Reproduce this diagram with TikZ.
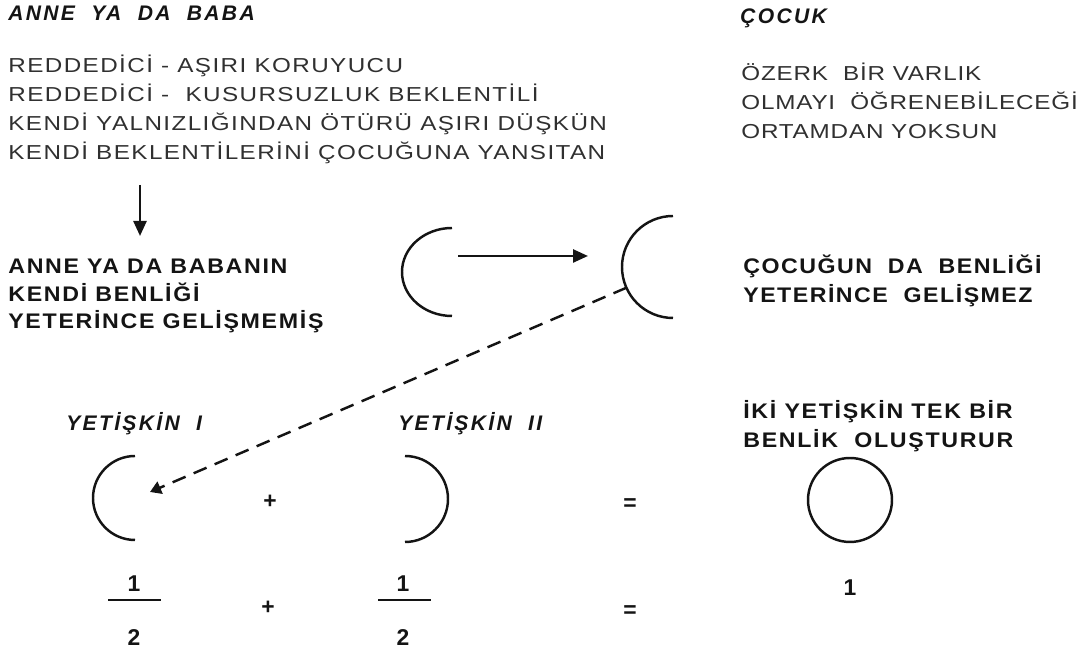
\documentclass[tikz,border=0pt]{standalone}
\usepackage{fontspec}
\setmainfont{Liberation Sans}
\usetikzlibrary{arrows.meta,positioning,calc}
\definecolor{ink}{HTML}{141414}
\definecolor{greytext}{HTML}{303030}

\begin{document}
\begin{tikzpicture}[x=0.02cm,y=0.02cm,>={Triangle[length=3mm,width=2.6mm]},
 hd/.style={anchor=west,inner sep=0pt,text=ink,font=\fontsize{12}{14}\selectfont\bfseries\itshape\addfontfeatures{LetterSpace=11}},
 lst/.style={anchor=north west,inner sep=0pt,align=left,text=greytext,font=\fontsize{11.5}{16.5}\selectfont\addfontfeatures{FakeStretch=1.2,LetterSpace=7}},
 lbl/.style={anchor=north west,inner sep=0pt,align=left,text=ink,font=\fontsize{12}{15.6}\selectfont\bfseries\addfontfeatures{FakeStretch=1.1,LetterSpace=8}},
 sym/.style={inner sep=0pt,text=ink,font=\fontsize{13}{13}\selectfont\bfseries},
 arcl/.style={draw=ink,line width=1.4pt},
 arr/.style={->,draw=ink,line width=1.4pt}]
\useasboundingbox (0,0) rectangle (1086,658);
% top: parent and child
\node[hd] (parent) at (8,645) {ANNE\ \ YA\ \ DA\ \ BABA};
\node[lst] (types) at (8,603) {REDDED\.{I}C\.{I} - A\c{S}IRI KORUYUCU\\
 REDDED\.{I}C\.{I} -\ \ KUSURSUZLUK BEKLENT\.{I}L\.{I}\\
 KEND\.{I} YALNIZLI\u{G}INDAN \"{O}T\"{U}R\"{U} A\c{S}IRI D\"{U}\c{S}K\"{U}N\\
 KEND\.{I} BEKLENT\.{I}LER\.{I}N\.{I} \c{C}OCU\u{G}UNA YANSITAN};
\node[hd] (child) at (740,640) {\c{C}OCUK};
\node[lst,font=\fontsize{11.5}{16.5}\selectfont\addfontfeatures{FakeStretch=1.2,LetterSpace=4}] (env) at (741,595) {\"{O}ZERK\ \ B\.{I}R VARLIK\\
 OLMAYI\ \ \"{O}\u{G}RENEB\.{I}LECE\u{G}\.{I}\\
 ORTAMDAN YOKSUN};
% middle row
\coordinate (down1) at (140,473);
\node[lbl] (weak) at (8,399) {ANNE YA DA BABANIN\\KEND\.{I} BENL\.{I}\u{G}\.{I}\\YETER\.{I}NCE GEL\.{I}\c{S}MEM\.{I}\c{S}};
\draw[arr,shorten >=0.46cm] (down1) -- (weak.north -| down1);
\coordinate (selfA) at (452,386);
\coordinate (selfB) at (673,391);
\draw[arcl] (selfA) ++(0,44) arc[start angle=90,end angle=270,x radius=50,y radius=44];
\draw[arcl] (selfB) ++(0,51) arc[start angle=90,end angle=270,x radius=51,y radius=51];
\coordinate (passA) at (458,402);
\coordinate (passB) at (588,402);
\draw[arr] (passA) -- (passB);
\node[lbl,font=\fontsize{12}{16.3}\selectfont\bfseries\addfontfeatures{FakeStretch=1.1,LetterSpace=7}] (childweak) at (743,403) {\c{C}OCU\u{G}UN\ \ DA\ \ BENL\.{I}\u{G}\.{I}\\YETER\.{I}NCE\ \ GEL\.{I}\c{S}MEZ};
% bottom: two adults
\node[hd] (adult1) at (66,234) {YET\.{I}\c{S}K\.{I}N\ \ I};
\node[hd] (adult2) at (398,234) {YET\.{I}\c{S}K\.{I}N\ \ II};
\node[lbl,font=\fontsize{12}{16.3}\selectfont\bfseries\addfontfeatures{FakeStretch=1.1,LetterSpace=8}] (oneself) at (743,258) {\.{I}K\.{I} YET\.{I}\c{S}K\.{I}N TEK B\.{I}R\\BENL\.{I}K\ \ OLU\c{S}TURUR};
\coordinate (selfC) at (135,160);
\coordinate (selfD) at (405,160);
\draw[arcl] (selfC) ++(0,42) arc[start angle=90,end angle=270,radius=42];
\draw[arcl] (selfD) ++(0,42) arc[start angle=90,end angle=-90,radius=43];
\node[sym] (plus1) at (270,156) {+};
\node[sym] (eq1) at (630,153) {=};
\node[draw=ink,line width=1.4pt,circle,minimum size=1.68cm,inner sep=0pt] (whole) at (850,158) {};
\draw[arr,>={Triangle[length=2.2mm,width=2.6mm]},dash pattern=on 8pt off 5pt] ($(selfB)+(204:51)$) -- (150,166);
% fractions
\node[sym] (num1) at (134,74) {1};
\node[sym] (den1) at (134,20) {2};
\node[sym] (plus2) at (268,50) {+};
\node[sym] (num2) at (403,74) {1};
\node[sym] (den2) at (403,20) {2};
\node[sym] (eq2) at (630,46) {=};
\node[sym] (unit) at (850,70) {1};
\draw[ink,line width=1.2pt] (108,58) -- (161,58);
\draw[ink,line width=1.2pt] (378,58) -- (431,58);
\end{tikzpicture}
\end{document}
